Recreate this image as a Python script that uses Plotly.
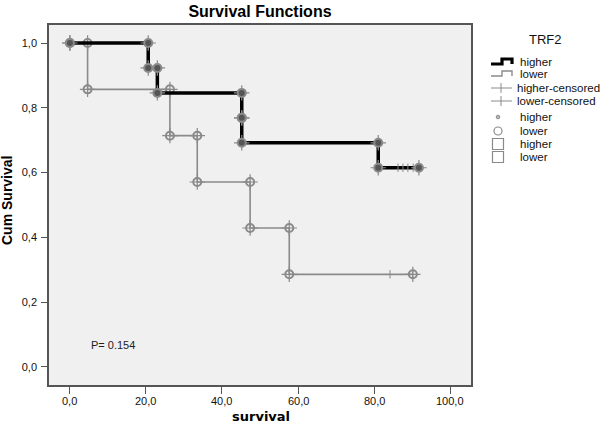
import plotly.graph_objects as go

# ---- data ----
higher_event_times = [20.6, 23.0, 45.2, 45.2, 81.1]
higher_event_surv = [0.923, 0.846, 0.769, 0.692, 0.615]
higher_censor_times = [86.3, 87.6, 88.9, 90.3, 91.8]

lower_event_times = [4.65, 26.3, 33.5, 47.4, 57.7]
lower_event_surv = [0.857, 0.714, 0.571, 0.429, 0.286]
lower_censor_times = [84.2, 90.2]

x_tick_vals = [0, 20, 40, 60, 80, 100]
x_tick_text = ["0,0", "20,0", "40,0", "60,0", "80,0", "100,0"]
y_tick_vals = [0, 0.2, 0.4, 0.6, 0.8, 1.0]
y_tick_text = ["0,0", "0,2", "0,4", "0,6", "0,8", "1,0"]

legend_labels = ["higher", "lower", "higher-censored", "lower-censored",
                 "higher", "lower", "higher", "lower"]

p_value_text = "P= 0.154"


def step_path(times, surv, end_time):
    xs, ys = [0.0], [1.0]
    prev = 1.0
    for t, s in zip(times, surv):
        xs += [t, t]
        ys += [prev, s]
        prev = s
    xs.append(end_time)
    ys.append(prev)
    return xs, ys


fig = go.Figure()

GRAY = "#8a8a8a"
FONT = "Arial, Liberation Sans, sans-serif"

for times, surv, cens, color, width, fill in [
    (lower_event_times, lower_event_surv, lower_censor_times, GRAY, 1.6, False),
    (higher_event_times, higher_event_surv, higher_censor_times, "#000000", 3.5, True),
]:
    xs, ys = step_path(times, surv, cens[-1])
    fig.add_trace(go.Scatter(x=xs, y=ys, mode="lines",
                             line=dict(color=color, width=width),
                             hoverinfo="skip", showlegend=False))
    # censor ticks
    fig.add_trace(go.Scatter(x=cens, y=[surv[-1]] * len(cens), mode="markers",
                             marker=dict(symbol="line-ns-open", size=6, color=GRAY,
                                         line=dict(color=GRAY, width=1)),
                             hoverinfo="skip", showlegend=False))
    # vertex markers
    fig.add_trace(go.Scatter(x=xs, y=ys, mode="markers",
                             marker=dict(symbol="cross-thin-open", size=11, color=GRAY,
                                         line=dict(color=GRAY, width=1.2)),
                             hoverinfo="skip", showlegend=False))
    fig.add_trace(go.Scatter(x=xs, y=ys, mode="markers",
                             marker=dict(symbol="circle", size=8,
                                         color="#555555" if fill else "rgba(0,0,0,0)",
                                         line=dict(color=GRAY, width=2)),
                             hoverinfo="skip", showlegend=False))

# ---- layout geometry (pixels) ----
W, H = 600, 425
L, R, T, B = 49, 471, 25, 385


def px(xp):
    return (xp - L) / (R - L)


def py(yp):
    return (B - yp) / (B - T)


shapes = []
annotations = []

# legend title
annotations.append(dict(x=px(545), y=py(40), xref="paper", yref="paper",
                        text="TRF2", showarrow=False, xanchor="center", yanchor="middle",
                        font=dict(family=FONT, size=13, color="#111")))

rows = [62, 74, 88, 101, 117, 131, 144, 157]
for i, (yy, lab) in enumerate(zip(rows, legend_labels)):
    tx = 515 if i in (2, 3) else 518
    annotations.append(dict(x=px(tx), y=py(yy), xref="paper", yref="paper",
                            text=lab, showarrow=False, xanchor="left", yanchor="middle",
                            font=dict(family=FONT, size=11.5, color="#111")))

# step icons
for yy, col, wd in [(rows[0], "#000", 3.2), (rows[1], GRAY, 1.4)]:
    path = (f"M {px(491)} {py(yy + 2)} L {px(502)} {py(yy + 2)} L {px(502)} {py(yy - 3)} "
            f"L {px(512)} {py(yy - 3)} L {px(512)} {py(yy + 2)}")
    shapes.append(dict(type="path", path=path, xref="paper", yref="paper",
                       line=dict(color=col, width=wd)))
# censored icons
for yy in rows[2:4]:
    shapes.append(dict(type="line", xref="paper", yref="paper",
                       x0=px(491), x1=px(512), y0=py(yy), y1=py(yy),
                       line=dict(color=GRAY, width=1)))
    shapes.append(dict(type="line", xref="paper", yref="paper",
                       x0=px(501), x1=px(501), y0=py(yy - 5), y1=py(yy + 5),
                       line=dict(color=GRAY, width=1)))
cx = 498
cy = rows[4]
shapes.append(dict(type="circle", xref="paper", yref="paper",
                   x0=px(cx - 1.8), x1=px(cx + 1.8), y0=py(cy - 1.8), y1=py(cy + 1.8),
                   line=dict(color=GRAY, width=1), fillcolor="#bbb"))
cy = rows[5]
shapes.append(dict(type="circle", xref="paper", yref="paper",
                   x0=px(cx - 4), x1=px(cx + 4), y0=py(cy - 4), y1=py(cy + 4),
                   line=dict(color=GRAY, width=1.2)))
for cy in rows[6:8]:
    shapes.append(dict(type="rect", xref="paper", yref="paper",
                       x0=px(cx - 5.5), x1=px(cx + 5.5), y0=py(cy - 5.5), y1=py(cy + 5.5),
                       line=dict(color=GRAY, width=1.2)))

# P value
annotations.append(dict(x=px(89), y=py(345), xref="paper", yref="paper",
                        text=p_value_text, showarrow=False, xanchor="left", yanchor="middle",
                        font=dict(family=FONT, size=11, color="#222")))

# axis titles
annotations.append(dict(x=px(7), y=py(201), xref="paper", yref="paper",
                        text="<b>Cum Survival</b>", textangle=-90, showarrow=False,
                        xanchor="center", yanchor="middle",
                        font=dict(family=FONT, size=14, color="#000")))
annotations.append(dict(x=px(261), y=py(417), xref="paper", yref="paper",
                        text="<b>survival</b>", showarrow=False,
                        xanchor="center", yanchor="middle",
                        font=dict(family="DejaVu Sans, Verdana, sans-serif", size=13, color="#000")))

# x tick labels placed as annotations for exact vertical position
for v, t in zip(x_tick_vals, x_tick_text):
    annotations.append(dict(x=v, y=py(401), xref="x", yref="paper", text=t,
                            showarrow=False, xanchor="center", yanchor="middle",
                            font=dict(family=FONT, size=11, color="#111")))

fig.update_layout(
    width=W, height=H,
    margin=dict(l=L, r=W - R, t=T, b=H - B, pad=0),
    paper_bgcolor="white",
    plot_bgcolor="#f0f0f0",
    showlegend=False,
    title=dict(text="<b>Survival Functions</b>", x=px(260), xref="paper", xanchor="center",
               y=1 - 11 / H, yanchor="middle",
               font=dict(family=FONT, size=16, color="#000")),
    xaxis=dict(range=[-5.5, 105.5], tickvals=x_tick_vals, ticktext=x_tick_text,
               showticklabels=False,
               showgrid=False, zeroline=False, showline=True, mirror=True,
               linecolor="#555", linewidth=1.5, ticks="outside", ticklen=7,
               tickcolor="#555"),
    yaxis=dict(range=[-0.0556, 1.0556], tickvals=y_tick_vals, ticktext=y_tick_text,
               showgrid=False, zeroline=False, showline=True, mirror=True,
               linecolor="#555", linewidth=1.5, ticks="outside", ticklen=6,
               ticklabelstandoff=2,
               tickcolor="#555", tickfont=dict(family=FONT, size=11, color="#111")),
    shapes=shapes,
    annotations=annotations,
)

fig.write_html("out.html", config={"displayModeBar": False},
               post_script="document.body.style.margin='0';document.body.style.padding='0';")
